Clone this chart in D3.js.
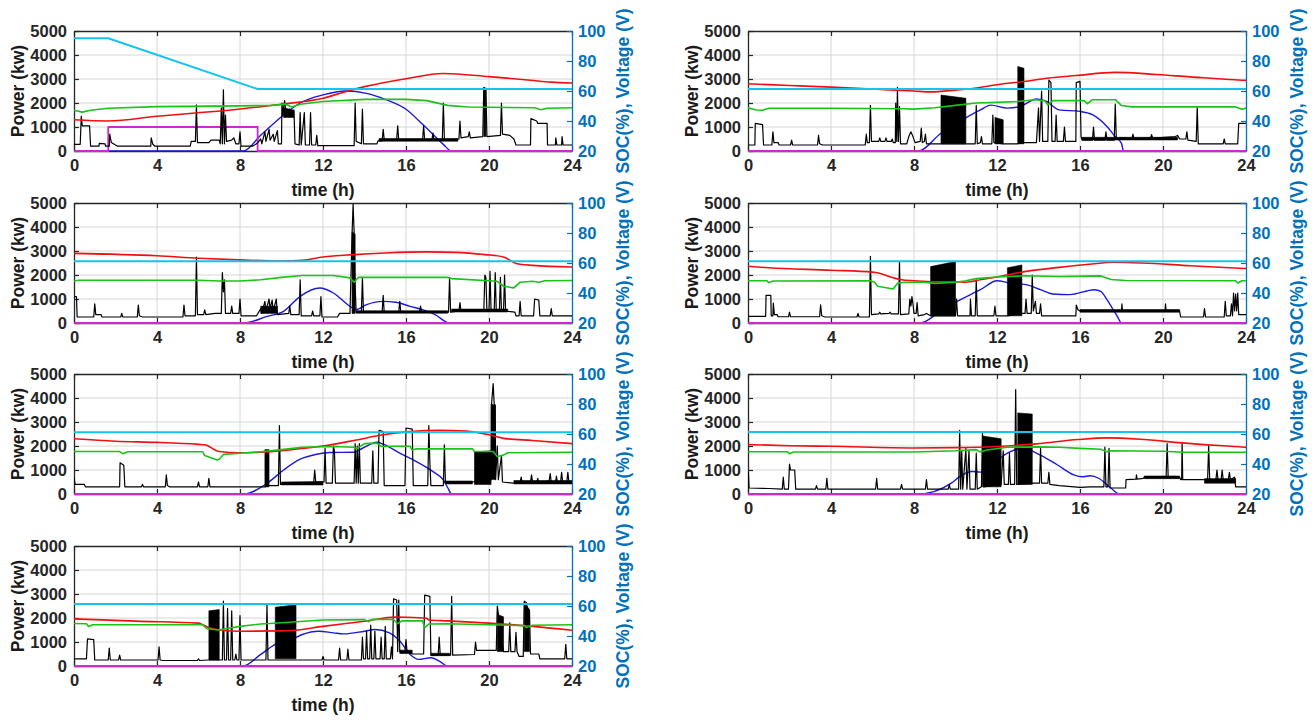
<!DOCTYPE html>
<html>
<head>
<meta charset="utf-8">
<script src="https://cdn.jsdelivr.net/npm/d3@7"></script>
<style>
  body { margin: 0; background: #fff; }
  svg { display: block; }
  text { font-family: "Liberation Sans", Arial, sans-serif; font-weight: bold; }
</style>
</head>
<body>
<svg id="chart" width="1314" height="721"></svg>
<script>
// ---- axis ticks ----
const timeTicks = [0, 4, 8, 12, 16, 20, 24];
const powerTicks = [0, 1000, 2000, 3000, 4000, 5000];
const socTicks = [20, 40, 60, 80, 100];

// ---- day A ----
const loadA = [[0,280],[0.3,280],[0.35,1450],[0.4,1050],[0.75,1050],[0.8,200],[1.2,200],[1.22,320],[1.5,300],[1.52,200],[1.7,200],[1.72,700],[1.8,350],[2.0,250],[2.1,200],[3.7,200],[3.72,550],[3.8,280],[3.9,200],[5.6,200],[5.65,400],[5.85,400],[5.9,1920],[5.95,350],[6.5,350],[6.6,450],[7.0,450],[7.05,300],[7.1,1800],[7.15,300],[7.2,2550],[7.25,300],[7.3,1500],[7.35,400],[7.6,450],[7.7,550],[7.8,300],[7.95,300],[8.0,800],[8.05,200],[8.6,200],[8.8,300],[9.0,500],[9.05,300],[9.2,800],[9.25,400],[9.4,900],[9.45,450],[9.6,700],[9.65,400],[9.8,850],[9.85,300],[10.0,300],[10.02,2000],[10.07,1500],[10.1,1800],[10.15,2100],[10.2,1700],[10.3,1500],[10.4,1750],[10.5,1600],[10.6,1700],[10.65,300],[10.85,250],[10.9,1600],[10.95,250],[11.1,1600],[11.15,250],[11.35,250],[11.4,1600],[11.45,250],[11.65,250],[11.7,650],[11.75,220],[13.5,220],[13.55,2000],[13.6,400],[13.85,300],[13.9,1750],[13.95,300],[14.6,300],[14.65,420],[14.85,420],[14.9,900],[14.95,480],[15.55,480],[15.6,1050],[15.65,450],[16.8,480],[16.85,1050],[16.9,450],[17.25,460],[17.3,750],[17.35,450],[17.75,460],[17.8,2000],[17.85,460],[18.55,500],[18.6,1250],[18.65,550],[19.0,600],[19.05,800],[19.1,550],[19.7,600],[19.75,2640],[19.85,2600],[19.9,600],[20.55,650],[20.6,2000],[20.65,700],[21.0,650],[21.2,500],[21.3,250],[22.0,250],[22.02,1350],[22.3,1250],[22.35,1150],[22.8,1150],[22.82,250],[23.2,250],[23.22,550],[23.27,250],[23.5,250],[23.52,600],[23.57,250],[24,250]];
const burstA = [[10.1,10.6,1400,1800,1700],[14.7,18.5,410,520,520],[19.75,19.85,600,2640,2600]];
const chargeA = [[0,0],[1.65,0],[1.65,1000],[8.85,1000],[8.85,0],[24,0]];
const redA = [[0,40.8],[1.65,40],[4,43.2],[8,48],[10,51.2],[12,55.2],[13,59.2],[14,62.9],[16,68.2],[17.8,71.7],[20,69.6],[22,67.2],[23,65.9],[24,65.3]];
const greenA = [[0,47.2],[0.4,45.9],[0.8,47.2],[1.65,48.5],[4,49.6],[8,50.1],[9.5,50.4],[10.2,51.2],[10.5,49.3],[10.9,51.2],[12,53],[14,54.4],[16,54.4],[17,53.6],[18,50.4],[19,49.3],[22.2,48.8],[22.5,47.5],[22.8,48.5],[24,48.8]];
const cyanA = [[0,95.2],[1.65,95.2],[8.85,61.3],[24,61.3]];
const blueA = [[0,20],[8.16,20],[9,30.5],[10.1,44],[10.9,52],[12,57.4],[13.1,60],[14.1,58.4],[15,54.4],[16,47.8],[16.8,37.8],[17.3,31.1],[17.8,24.4],[18.2,20],[24,20]];

// ---- day B ----
const loadB = [[0,250],[0.33,250],[0.35,1150],[0.7,1100],[0.75,250],[1.15,250],[1.2,800],[1.25,350],[1.45,350],[1.5,250],[2.05,250],[2.1,450],[2.15,250],[3.35,250],[3.4,650],[3.45,300],[3.6,250],[5.65,250],[5.7,700],[5.75,350],[5.85,350],[5.9,1900],[5.95,400],[6.3,400],[6.35,550],[6.4,400],[6.6,400],[6.65,550],[6.7,400],[6.9,400],[6.95,500],[7.0,350],[7.1,350],[7.12,2000],[7.17,400],[7.2,2650],[7.25,400],[7.3,1850],[7.35,300],[7.65,300],[7.75,600],[7.85,800],[7.95,600],[8.05,350],[8.3,400],[8.35,950],[8.4,350],[8.5,400],[8.55,700],[8.6,300],[9.3,300],[10.5,300],[10.95,300],[11.0,1900],[11.05,300],[11.2,350],[11.25,600],[11.3,300],[11.75,300],[11.8,1500],[11.85,350],[12.3,300],[12.95,300],[13.3,350],[13.9,350],[14.0,1800],[14.05,400],[14.15,2500],[14.2,400],[14.45,400],[14.5,2950],[14.6,2850],[14.65,400],[14.8,400],[14.85,1500],[14.9,400],[15.2,400],[15.25,1000],[15.3,400],[15.8,400],[15.82,2850],[16.0,2900],[16.05,600],[16.1,450],[16.6,450],[16.65,1000],[16.7,450],[17.2,450],[17.25,800],[17.3,450],[17.65,450],[17.7,1950],[17.75,500],[18,550],[18.5,520],[18.55,700],[18.6,520],[19.4,540],[19.45,680],[19.5,540],[20.6,600],[20.7,650],[20.8,500],[21.1,500],[21.15,800],[21.2,450],[21.6,400],[21.65,1850],[21.7,300],[22.9,300],[22.95,500],[23.0,300],[23.6,300],[23.65,1150],[24,1150]];
const burstB = [[9.3,10.5,300,2330,2200],[11.9,12.3,300,1400,1300],[13.0,13.3,300,3520,3450],[16.1,20.7,460,570,570]];
const chargeB = [[0,0],[24,0]];
const redB = [[0,64.8],[2,63.7],[4,62.6],[6,61.3],[8,60],[8.8,59.4],[10,60.6],[11,62],[12,64.2],[13.4,66.5],[14.5,68.7],[15.8,70.3],[17.7,72.4],[19.7,71],[21.3,69.4],[23.8,67.2],[24,67.1]];
const greenB = [[0,48.8],[0.4,47.3],[0.7,47.2],[1,48.5],[4,48.5],[6,48.3],[7.5,48.2],[8,47.9],[9,48.8],[10,50.4],[11,52],[12,52.4],[13,53],[13.8,54.2],[14.3,53.6],[14.45,50.7],[14.7,53.6],[16.2,53.6],[16.35,51.5],[16.6,54.2],[17.7,54.2],[18,50.3],[18.5,49.4],[23.5,49.4],[23.8,47.8],[24,48.6]];
const cyanB = [[0,61.3],[24,61.3]];
const blueB = [[0,20],[8.2,20],[9.3,31.8],[10.2,39.7],[11.2,47.4],[11.7,50.6],[12.5,48.6],[13.1,49.6],[13.9,54.7],[14.4,53],[15,47.4],[16,46.4],[16.6,44.2],[17.3,36.3],[17.7,29.6],[18,25.1],[18.1,20],[24,20]];

// ---- day C ----
const loadC = [[0,1100],[0.12,1100],[0.15,250],[0.95,250],[1.0,800],[1.05,350],[1.3,350],[1.35,250],[2.25,250],[2.3,400],[2.35,250],[3.05,250],[3.1,750],[3.15,300],[3.3,250],[5.25,250],[5.3,750],[5.35,300],[5.85,300],[5.9,2750],[5.95,350],[6.25,350],[6.3,550],[6.35,350],[6.8,400],[7.1,400],[7.15,2100],[7.2,1300],[7.25,1800],[7.3,400],[7.55,400],[7.6,700],[7.65,400],[7.95,400],[8.0,1000],[8.05,300],[8.8,300],[9.0,600],[9.05,400],[9.2,900],[9.25,500],[9.4,1000],[9.45,600],[9.55,950],[9.6,500],[9.75,1000],[9.8,350],[10.35,400],[10.4,700],[10.45,350],[10.85,350],[10.9,1800],[10.95,300],[11.45,300],[11.5,500],[11.55,300],[11.85,300],[11.9,1100],[11.95,250],[12.7,250],[12.8,400],[13.3,400],[13.4,3700],[13.45,4950],[13.5,3800],[13.55,1500],[13.6,450],[13.85,450],[13.9,1900],[13.95,450],[14.85,450],[14.9,1150],[14.95,450],[15.65,450],[15.7,900],[15.75,450],[16.65,450],[16.7,700],[16.75,450],[18.05,450],[18.1,1900],[18.15,450],[18.55,500],[18.6,850],[18.65,500],[19.75,500],[19.8,2000],[19.85,1900],[19.9,500],[20.0,500],[20.05,2150],[20.1,500],[20.25,500],[20.3,2100],[20.35,500],[20.5,500],[20.55,1900],[20.6,500],[20.7,500],[20.75,2000],[20.8,500],[21.25,450],[21.3,300],[21.45,300],[21.5,900],[21.55,300],[22.15,300],[22.2,1000],[22.4,950],[22.45,300],[22.95,300],[23.0,600],[23.05,300],[24,300]];
const burstC = [[9.0,9.8,400,700,700],[13.4,13.55,400,3800,3700],[13.6,18.0,410,510,510],[18.2,20.9,460,580,580]];
const chargeC = [[0,0],[24,0]];
const redC = [[0,66.4],[4,64.8],[6,63.2],[8,62.1],[10,61.3],[11,61.8],[12,64],[13.5,65.6],[15,66.7],[17,67.4],[18.4,67.1],[19.8,65.6],[20.7,64],[21.3,59.7],[22.1,58.4],[24,57.3]];
const greenC = [[0,48],[0.2,48.5],[4,48.5],[6,48.5],[7,48],[8,48],[9,48.8],[10,50.4],[11,51.7],[12.5,51.7],[13.3,50.1],[13.5,47.2],[13.7,50.4],[18,50.4],[18.2,49.6],[20.4,47.8],[20.7,44.5],[21.2,43.4],[21.5,47.2],[22.1,47.8],[22.4,47.2],[22.7,48.2],[24,48.3]];
const cyanC = [[0,61.2],[24,61.2]];
const blueC = [[0,20],[8.2,20],[9.3,24.4],[10.1,27.8],[10.9,37.8],[11.85,43.3],[12.5,40],[13.3,31.1],[13.6,28.9],[14.1,32.2],[14.9,34.4],[15.5,33.8],[16.2,31.1],[16.8,28.9],[17.4,25.6],[18.1,20],[24,20]];

// ---- day D ----
const loadD = [[0,280],[0.85,280],[0.87,1150],[1.1,1150],[1.12,300],[1.2,300],[1.22,830],[1.27,350],[1.4,350],[1.45,260],[1.95,260],[2.0,450],[2.05,260],[3.45,260],[3.5,760],[3.55,300],[3.7,250],[5.25,250],[5.3,400],[5.35,250],[5.85,250],[5.9,2780],[5.95,350],[6.3,380],[6.35,450],[6.4,380],[6.8,400],[6.85,450],[6.9,380],[7.25,380],[7.3,2530],[7.35,350],[7.75,380],[7.8,1000],[7.85,700],[7.9,1100],[7.95,800],[8.0,400],[8.1,400],[8.15,850],[8.2,300],[8.5,350],[8.6,400],[8.8,300],[10.0,300],[10.05,1000],[10.1,300],[10.7,300],[10.72,1000],[10.77,300],[10.95,300],[11.0,1800],[11.05,300],[11.85,300],[11.9,700],[11.95,300],[12.5,300],[13.2,400],[13.35,400],[13.4,1000],[13.45,400],[13.65,400],[13.7,2000],[13.75,500],[13.85,900],[13.9,400],[14.05,400],[14.1,800],[14.15,300],[15.8,300],[15.82,750],[15.9,550],[16.0,500],[18.0,500],[18.02,800],[18.05,500],[20.1,500],[20.12,800],[20.15,500],[20.8,500],[20.85,250],[21.95,250],[22.0,600],[22.05,250],[22.95,250],[23.0,900],[23.05,300],[23.25,300],[23.3,800],[23.35,300],[23.4,1250],[23.45,500],[23.5,1200],[23.55,500],[23.6,1250],[23.65,350],[24,350]];
const burstD = [[8.8,10.0,300,2350,2560],[12.5,13.2,300,2300,2420],[16.0,20.8,450,560,560]];
const chargeD = [[0,0],[24,0]];
const redD = [[0,57.8],[1,56.8],[4,55.2],[6,53.9],[6.3,53.3],[7,50.1],[7.4,48.8],[8,48.2],[9,47.5],[10,47.5],[10.5,47.2],[11.2,48.8],[12,50.7],[13.4,54.4],[15,57.1],[16.7,59.5],[17.6,60.5],[19,60],[21.3,58.2],[24,56.3]];
const greenD = [[0,48.2],[0.9,48.2],[1.0,46.9],[1.2,48],[5.9,48.2],[6.1,47.2],[6.25,44.5],[7.0,42.7],[7.2,46.4],[7.5,47.2],[8.5,47.2],[9,46.4],[10,47.2],[10.5,48.2],[11,49.6],[12,50.7],[13.4,51.5],[15,51],[17,51.4],[17.5,49],[18.2,48.3],[23.5,48.2],[23.6,46.7],[23.8,48.2],[24,48.2]];
const cyanD = [[0,61.2],[24,61.2]];
const blueD = [[0,20],[8.3,20],[9.2,27],[10.1,34.6],[11.2,42.2],[12,48.2],[12.6,46.7],[13.4,45.6],[14.1,42.2],[14.7,39.3],[15.5,38.9],[16.7,42.2],[17,41.1],[17.3,35.6],[17.6,28.9],[17.8,24.4],[18,20],[24,20]];

// ---- day E ----
const loadE = [[0,700],[0.05,400],[0.5,400],[0.55,300],[2.2,300],[2.22,1300],[2.4,1200],[2.45,300],[3.25,300],[3.3,400],[3.35,300],[4.4,300],[4.45,800],[4.5,350],[4.6,300],[5.95,300],[6.0,500],[6.05,300],[6.45,300],[6.5,650],[6.55,300],[9.2,300],[9.4,350],[9.85,350],[9.9,2850],[9.95,400],[10.5,400],[11.55,450],[11.6,1000],[11.65,500],[12.05,500],[12.1,1900],[12.15,450],[12.45,450],[12.5,2000],[12.55,1800],[12.6,450],[13.5,450],[13.55,2100],[13.6,450],[13.65,2000],[13.7,450],[13.75,2100],[13.8,450],[14.35,450],[14.4,1800],[14.45,450],[14.65,450],[14.7,2650],[14.9,2600],[14.95,350],[15.95,350],[16.0,2750],[16.3,2700],[16.35,350],[17.05,350],[17.1,2850],[17.15,1300],[17.2,350],[17.8,350],[17.85,2050],[17.9,450],[19.2,500],[20.1,600],[20.12,3700],[20.2,4600],[20.25,3750],[20.3,3700],[20.32,600],[20.4,2000],[20.45,600],[20.6,1600],[20.65,500],[21.2,450],[21.5,480],[21.55,700],[21.6,450],[22,500],[22.05,800],[22.1,500],[22.3,480],[22.35,650],[22.4,450],[22.9,550],[22.95,850],[23,500],[23.2,450],[23.25,750],[23.3,450],[23.45,500],[23.5,900],[23.55,500],[23.75,500],[23.8,900],[23.85,500],[24,500]];
const burstE = [[9.2,9.4,300,1850,1850],[10.0,12.0,380,500,520],[17.9,19.2,420,540,540],[19.3,20.1,400,1750,1800],[20.1,20.3,600,3750,3700],[21.2,24,420,560,560]];
const chargeE = [[0,0],[24,0]];
const redE = [[0,56.8],[2,55.2],[4,54.4],[6,53.1],[6.3,52.8],[7,48.3],[8,47.5],[9,47.8],[10,48.8],[11,50.4],[12,52],[13.6,56],[14.9,59.5],[16.2,61.6],[17.6,62.4],[18.9,61.9],[20,59.5],[20.7,57.1],[22.1,55.7],[24,53.6]];
const greenE = [[0,48.3],[2.2,48.3],[2.35,46.9],[2.6,48.2],[6.2,48.2],[6.3,45.6],[6.9,42.7],[7.0,43.2],[7.2,46.4],[8,47.2],[9,48.2],[10,49.6],[11,51.2],[12.5,51.7],[13.5,51.2],[13.6,50.1],[14.0,53.6],[14.6,53.9],[14.8,51.7],[15.5,51.8],[16.2,51.8],[16.3,49.3],[16.5,50.1],[19.2,50.1],[19.3,48.3],[20.2,48.3],[20.4,45],[20.7,45.9],[20.9,47.5],[24,47.8]];
const cyanE = [[0,61.2],[24,61.2]];
const blueE = [[0,20],[8.2,20],[9.3,27.1],[10.1,36],[10.9,43.2],[11.7,46.5],[12.3,47.7],[13.5,47.8],[13.9,50.5],[14.6,54.5],[14.9,53.2],[15.7,47.2],[16.5,41.6],[17.3,34.9],[17.8,29.4],[18,24.5],[18.2,20],[24,20]];

// ---- day F ----
const loadF = [[0,250],[0.02,900],[0.05,250],[1.0,230],[1.65,200],[1.7,700],[1.75,200],[1.95,200],[2.0,1250],[2.05,1000],[2.25,1000],[2.3,200],[3.25,200],[3.3,350],[3.35,200],[3.75,200],[3.8,650],[3.85,200],[6.15,200],[6.2,650],[6.25,200],[7.35,200],[7.4,400],[7.45,200],[8.55,200],[8.6,600],[8.65,200],[9.65,200],[9.7,400],[9.75,200],[10.15,200],[10.2,2650],[10.25,200],[10.3,1800],[10.35,200],[10.5,1900],[10.55,200],[10.65,1800],[10.7,200],[10.95,200],[11.0,1700],[11.05,200],[11.25,300],[11.3,2600],[11.35,300],[12.2,400],[12.3,1800],[12.35,400],[12.55,400],[12.6,1700],[12.65,400],[12.85,400],[12.9,4350],[12.95,400],[13.7,450],[14.05,450],[14.1,1900],[14.15,450],[14.45,450],[14.5,900],[14.55,400],[15,350],[16,280],[16.5,300],[17.15,300],[17.2,1950],[17.25,300],[17.35,300],[17.4,1900],[17.45,250],[18.2,250],[18.22,600],[18.7,620],[18.72,800],[18.75,620],[19.05,650],[19.1,700],[20.15,700],[20.2,2100],[20.25,700],[20.8,700],[20.85,600],[20.9,600],[20.92,2150],[20.95,600],[22.15,600],[22.2,2000],[22.25,600],[22.55,600],[22.6,1000],[22.65,600],[22.8,600],[22.85,1000],[22.9,600],[23.15,600],[23.2,900],[23.25,600],[23.45,700],[23.5,300],[24,300]];
const burstF = [[11.3,12.2,300,2420,2300],[13.0,13.7,400,3380,3330],[19.1,20.8,640,750,750],[22.0,23.5,450,640,640]];
const chargeF = [[0,0],[24,0]];
const redF = [[0,53],[2,52.2],[4,51.8],[8,50.7],[10,50.9],[12,51.7],[13.9,53.4],[15.9,56.3],[17.3,57.4],[18.9,56.5],[20.9,54.1],[23.9,51.2],[24,51.1]];
const greenF = [[0,48.2],[1.9,48.2],[2.0,46.9],[2.2,48],[8,48],[10,48.8],[11,49.6],[11.2,48],[11.5,49.3],[12.5,51.2],[14,51.4],[15,51.2],[16,50.4],[17,49.8],[17.3,48.2],[17.5,48.8],[20,48.5],[21,47.8],[24,47.8]];
const cyanF = [[0,61.3],[24,61.3]];
const blueF = [[0,20],[8.23,20],[9.8,27.2],[10.2,31.6],[10.8,35],[11.2,34.6],[12.5,47.3],[13.25,50.7],[13.9,47.3],[14.9,39.5],[15.7,32.8],[16.1,31.5],[16.5,32.2],[16.9,30.5],[17.5,23.8],[17.9,20],[24,20]];

// ---- day G ----
const loadG = [[0,300],[0.6,300],[0.65,1130],[0.95,1100],[1.0,250],[1.65,250],[1.7,750],[1.75,250],[2.15,250],[2.2,450],[2.25,250],[4.05,250],[4.1,800],[4.15,250],[4.3,230],[5.95,230],[6.0,300],[6.05,230],[6.45,250],[7.0,250],[7.15,250],[7.2,2700],[7.25,250],[7.35,250],[7.4,2400],[7.45,250],[7.55,250],[7.6,2300],[7.65,250],[7.75,250],[7.8,500],[7.85,250],[7.95,250],[8.0,2100],[8.05,250],[9.25,250],[9.3,2550],[9.35,250],[9.65,250],[10.7,250],[11.95,250],[12.0,400],[12.05,250],[12.75,250],[12.8,750],[12.85,250],[13.15,250],[13.2,700],[13.25,250],[13.85,250],[13.9,1200],[13.95,300],[14.05,300],[14.1,1450],[14.15,300],[14.25,300],[14.3,1700],[14.35,300],[14.45,300],[14.5,1450],[14.55,300],[14.75,300],[14.8,1200],[14.85,300],[14.95,300],[15.0,1650],[15.05,300],[15.25,300],[15.3,800],[15.35,300],[15.4,2800],[15.55,2750],[15.6,600],[15.65,2750],[15.7,600],[15.95,600],[16.0,1100],[16.05,600],[16.3,500],[16.85,500],[16.9,2950],[17.15,2900],[17.2,450],[17.55,450],[17.6,1200],[17.65,450],[18.15,450],[18.2,2900],[18.25,450],[19.3,480],[19.35,1000],[19.4,650],[20.35,650],[20.4,2500],[20.7,600],[20.95,600],[21.0,1800],[21.05,600],[21.25,600],[21.3,1400],[21.35,600],[21.45,400],[21.65,400],[21.7,2700],[21.8,2650],[21.85,2400],[21.95,2300],[22.0,500],[22.4,500],[22.45,300],[23.65,300],[23.7,900],[23.75,300],[24,300]];
const burstG = [[6.5,7.0,250,2300,2350],[9.7,10.7,300,2450,2550],[15.7,16.3,520,660,660],[17.2,18.1,430,530,530],[20.4,20.7,600,2150,2050],[21.7,21.95,600,2650,2350]];
const chargeG = [[0,0],[24,0]];
const redG = [[0,51.4],[3,49.9],[6,48.6],[6.2,47.5],[6.5,45.6],[7,44],[8,43.2],[10,43.4],[10.5,43.7],[12,46.4],[14,49.8],[15.5,52.6],[16,52.5],[17,51.8],[17.1,50.7],[18,50.1],[20,48.6],[22,46.6],[24,43.8]];
const greenG = [[0,48.3],[0.6,48.2],[0.7,46.4],[0.9,47.5],[6.2,47.5],[6.4,44.8],[7.0,44],[7.3,44.8],[8,46.4],[9,48],[10,48.8],[12,50.7],[14,50.9],[14.2,49.6],[14.4,51.2],[15.4,51],[15.6,48.2],[15.8,50.1],[16.8,50.1],[16.9,45.6],[17.1,48],[18,48.2],[20,47.5],[21.7,46.9],[21.8,45.6],[22.1,47.2],[24,47.5]];
const cyanG = [[0,61.3],[24,61.3]];
const blueG = [[0,20],[8.15,20],[9,27.7],[9.7,34.4],[10.5,37.7],[11,41],[11.8,43.2],[12.5,42.1],[13,41.4],[14,43.2],[14.5,44.3],[15.2,42.1],[15.7,36.6],[16.2,27.7],[16.6,24.4],[17.2,25.5],[17.6,23.3],[18,20],[24,20]];

// ---- panel table: grid position and series ----
const panels = [
  { col: 0, row: 0, load: loadA, bursts: burstA, charge: chargeA, red: redA, green: greenA, cyan: cyanA, blue: blueA },
  { col: 1, row: 0, load: loadB, bursts: burstB, charge: chargeB, red: redB, green: greenB, cyan: cyanB, blue: blueB },
  { col: 0, row: 1, load: loadC, bursts: burstC, charge: chargeC, red: redC, green: greenC, cyan: cyanC, blue: blueC },
  { col: 1, row: 1, load: loadD, bursts: burstD, charge: chargeD, red: redD, green: greenD, cyan: cyanD, blue: blueD },
  { col: 0, row: 2, load: loadE, bursts: burstE, charge: chargeE, red: redE, green: greenE, cyan: cyanE, blue: blueE },
  { col: 1, row: 2, load: loadF, bursts: burstF, charge: chargeF, red: redF, green: greenF, cyan: cyanF, blue: blueF },
  { col: 0, row: 3, load: loadG, bursts: burstG, charge: chargeG, red: redG, green: greenG, cyan: cyanG, blue: blueG }
];

// ---- layout ----
const colX = [74, 748];
const rowY = [31, 203, 374, 546];
const plotW = 498, plotH = 120;
const axisDark = "#262626";
const axisBlue = "#0072BD";
const tickFont = "16.5px";
const labelFont = "17.5px";

const svg = d3.select("#chart");
const defs = svg.append("defs");

panels.forEach((p, i) => {
  const x0 = colX[p.col], y0 = rowY[p.row];
  const x = d3.scaleLinear().domain([0, 24]).range([x0, x0 + plotW]);
  const yL = d3.scaleLinear().domain([0, 5000]).range([y0 + plotH, y0]);
  const yR = d3.scaleLinear().domain([20, 100]).range([y0 + plotH, y0]);
  const g = svg.append("g");

  // grid lines
  const grid = g.append("g").attr("stroke", "#d6d6d6").attr("stroke-width", 1);
  grid.selectAll("line.gx").data(timeTicks.slice(1, -1)).join("line")
    .attr("x1", d => x(d)).attr("x2", d => x(d)).attr("y1", y0).attr("y2", y0 + plotH);
  grid.selectAll("line.gy").data(powerTicks.slice(1, -1)).join("line")
    .attr("x1", x0).attr("x2", x0 + plotW).attr("y1", d => yL(d)).attr("y2", d => yL(d));

  // axes
  const styleAxis = (sel, color) => {
    sel.attr("font-size", null).attr("font-family", null);
    sel.select(".domain").attr("stroke", color).attr("stroke-width", 1.3);
    sel.selectAll(".tick line").attr("stroke", color).attr("stroke-width", 1.2);
    sel.selectAll(".tick text").attr("fill", color).style("font-size", tickFont);
  };
  g.append("g").attr("transform", `translate(0,${y0 + plotH})`)
    .call(d3.axisBottom(x).tickValues(timeTicks).tickSize(-5).tickSizeOuter(0).tickPadding(8).tickFormat(d3.format("d")))
    .call(s => styleAxis(s, axisDark));
  g.append("g").attr("transform", `translate(0,${y0})`)
    .call(d3.axisTop(x).tickValues(timeTicks).tickSize(-5).tickSizeOuter(0).tickFormat(""))
    .call(s => styleAxis(s, axisDark));
  g.append("g").attr("transform", `translate(${x0},0)`)
    .call(d3.axisLeft(yL).tickValues(powerTicks).tickSize(-5).tickSizeOuter(0).tickPadding(7).tickFormat(d3.format("d")))
    .call(s => styleAxis(s, axisDark));
  g.append("g").attr("transform", `translate(${x0 + plotW},0)`)
    .call(d3.axisRight(yR).tickValues(socTicks).tickSize(-5).tickSizeOuter(0).tickPadding(6).tickFormat(d3.format("d")))
    .call(s => styleAxis(s, axisBlue));

  // axis titles
  g.append("text")
    .attr("transform", `translate(${x0 - 56},${y0 + plotH / 2}) rotate(-90)`)
    .attr("text-anchor", "middle").attr("dominant-baseline", "central")
    .style("font-size", labelFont).attr("fill", "#1a1a1a")
    .text("Power (kw)");
  g.append("text")
    .attr("transform", `translate(${x0 + plotW + 51},${y0 + plotH / 2}) rotate(-90)`)
    .attr("text-anchor", "middle").attr("dominant-baseline", "central")
    .style("font-size", labelFont).attr("fill", axisBlue)
    .text("SOC(%), Voltage (V)");
  g.append("text")
    .attr("x", x0 + plotW / 2).attr("y", y0 + plotH + 39)
    .attr("text-anchor", "middle").attr("dominant-baseline", "central")
    .style("font-size", labelFont).attr("fill", "#1a1a1a")
    .text("time (h)");

  // data layer, clipped to the plot box
  const clipId = `clip${i}`;
  defs.append("clipPath").attr("id", clipId).append("rect")
    .attr("x", x0).attr("y", y0 - 2).attr("width", plotW).attr("height", plotH + 4);
  const data = g.append("g").attr("clip-path", `url(#${clipId})`).attr("fill", "none")
    .attr("stroke-linejoin", "round");

  const lineL = d3.line().x(d => x(d[0])).y(d => yL(d[1]));
  const lineR = d3.line().x(d => x(d[0])).y(d => yR(d[1]));
  const smoothR = d3.line().x(d => x(d[0])).y(d => yR(d[1])).curve(d3.curveMonotoneX);
  const band = d3.area().x(d => x(d[0])).y0(d => yL(d[1])).y1(d => yL(d[2]));

  data.append("path").attr("d", smoothR(p.blue)).attr("stroke", "#1a1ad8").attr("stroke-width", 1.4);
  data.append("path").attr("d", lineL(p.charge)).attr("stroke", "#cc2acc").attr("stroke-width", 1.8);
  data.selectAll("path.burst").data(p.bursts).join("path")
    .attr("d", b => band([[b[0], b[2], b[3]], [b[1], b[2], b[4]]]))
    .attr("fill", "#000").attr("stroke", "#000").attr("stroke-width", 0.6);
  data.append("path").attr("d", lineL(p.load)).attr("stroke", "#000").attr("stroke-width", 1.2);
  data.append("path").attr("d", smoothR(p.red)).attr("stroke", "#f01010").attr("stroke-width", 1.6);
  data.append("path").attr("d", lineR(p.cyan)).attr("stroke", "#14c4ee").attr("stroke-width", 2);
  data.append("path").attr("d", lineR(p.green)).attr("stroke", "#18c418").attr("stroke-width", 1.6);
});
</script>
</body>
</html>
